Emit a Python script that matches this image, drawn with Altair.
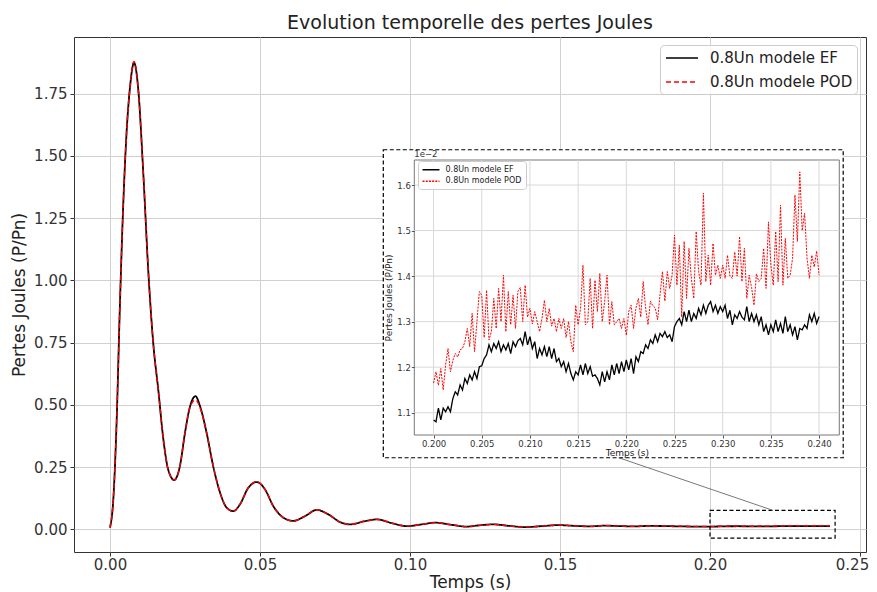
import altair as alt
import pandas as pd

main_t = [0.0, 0.0011, 0.0022, 0.0033, 0.0044, 0.0056, 0.0067, 0.0080, 0.0094, 0.0111,
          0.0128, 0.0144, 0.0161, 0.0178, 0.0194, 0.0214, 0.0233, 0.0250, 0.0267, 0.0285,
          0.0300, 0.0322, 0.0344, 0.0367, 0.0389, 0.0411, 0.0433, 0.0461, 0.0489, 0.0517,
          0.0544, 0.0578, 0.0611, 0.0650, 0.0689, 0.0728, 0.0767, 0.0800, 0.0850, 0.0889,
          0.0940, 0.0989, 0.1040, 0.1083, 0.1140, 0.1189, 0.1230, 0.1278, 0.1330, 0.1383,
          0.1440, 0.1494, 0.1550, 0.1600, 0.1650, 0.1700, 0.1750, 0.1800, 0.1850, 0.1900,
          0.1950]
main_ef = [0.007, 0.12, 0.43, 0.90, 1.30, 1.61, 1.78, 1.875, 1.77, 1.43,
           1.03, 0.75, 0.56, 0.36, 0.24, 0.198, 0.254, 0.388, 0.495, 0.535,
           0.495, 0.388, 0.254, 0.147, 0.087, 0.073, 0.100, 0.167, 0.190, 0.160,
           0.094, 0.047, 0.034, 0.053, 0.078, 0.060, 0.029, 0.020, 0.033, 0.040,
           0.025, 0.013, 0.020, 0.027, 0.018, 0.011, 0.016, 0.020, 0.014, 0.009,
           0.013, 0.017, 0.014, 0.012, 0.015, 0.013, 0.012, 0.014, 0.013, 0.012,
           0.011]
main_pod = [0.007, 0.12, 0.43, 0.90, 1.30, 1.61, 1.78, 1.88, 1.77, 1.43,
            1.03, 0.75, 0.56, 0.36, 0.24, 0.198, 0.254, 0.388, 0.492, 0.520,
            0.490, 0.388, 0.254, 0.147, 0.087, 0.073, 0.100, 0.167, 0.192, 0.160,
            0.094, 0.047, 0.034, 0.053, 0.079, 0.060, 0.029, 0.020, 0.033, 0.040,
            0.025, 0.013, 0.020, 0.027, 0.018, 0.011, 0.016, 0.020, 0.014, 0.009,
            0.013, 0.017, 0.014, 0.012, 0.015, 0.013, 0.012, 0.014, 0.013, 0.013,
            0.012]

# ---------------- zoom window 0.200 - 0.240 s (time in ms, losses in 1e-2 P/Pn)
inset_t_ms = [
    200.0, 200.25, 200.5, 200.75, 201.0, 201.25, 201.5, 201.75,
    202.0, 202.25, 202.5, 202.75, 203.0, 203.25, 203.5, 203.75,
    204.0, 204.25, 204.5, 204.75, 205.0, 205.25, 205.5, 205.75,
    206.0, 206.25, 206.5, 206.75, 207.0, 207.25, 207.5, 207.75,
    208.0, 208.25, 208.5, 208.75, 209.0, 209.25, 209.5, 209.75,
    210.0, 210.25, 210.5, 210.75, 211.0, 211.25, 211.5, 211.75,
    212.0, 212.25, 212.5, 212.75, 213.0, 213.25, 213.5, 213.75,
    214.0, 214.25, 214.5, 214.75, 215.0, 215.25, 215.5, 215.75,
    216.0, 216.25, 216.5, 216.75, 217.0, 217.25, 217.5, 217.75,
    218.0, 218.25, 218.5, 218.75, 219.0, 219.25, 219.5, 219.75,
    220.0, 220.25, 220.5, 220.75, 221.0, 221.25, 221.5, 221.75,
    222.0, 222.25, 222.5, 222.75, 223.0, 223.25, 223.5, 223.75,
    224.0, 224.25, 224.5, 224.75, 225.0, 225.25, 225.5, 225.75,
    226.0, 226.25, 226.5, 226.75, 227.0, 227.25, 227.5, 227.75,
    228.0, 228.25, 228.5, 228.75, 229.0, 229.25, 229.5, 229.75,
    230.0, 230.25, 230.5, 230.75, 231.0, 231.25, 231.5, 231.75,
    232.0, 232.25, 232.5, 232.75, 233.0, 233.25, 233.5, 233.75,
    234.0, 234.25, 234.5, 234.75, 235.0, 235.25, 235.5, 235.75,
    236.0, 236.25, 236.5, 236.75, 237.0, 237.25, 237.5, 237.75,
    238.0, 238.25, 238.5, 238.75, 239.0, 239.25, 239.5, 239.75,
    240.0]
inset_ef = [
    1.084, 1.080, 1.110, 1.084, 1.110, 1.102, 1.113, 1.102, 1.131, 1.146,
    1.139, 1.161, 1.150, 1.175, 1.164, 1.183, 1.172, 1.190, 1.175, 1.201,
    1.203, 1.219, 1.227, 1.249, 1.234, 1.252, 1.241, 1.256, 1.234, 1.249,
    1.238, 1.252, 1.230, 1.256, 1.245, 1.258, 1.263, 1.249, 1.278, 1.249,
    1.267, 1.241, 1.256, 1.219, 1.241, 1.227, 1.245, 1.223, 1.245, 1.219,
    1.241, 1.212, 1.219, 1.201, 1.212, 1.190, 1.208, 1.186, 1.172, 1.190,
    1.183, 1.205, 1.183, 1.208, 1.186, 1.201, 1.180, 1.183, 1.175, 1.161,
    1.190, 1.168, 1.190, 1.172, 1.205, 1.183, 1.208, 1.186, 1.212, 1.190,
    1.216, 1.194, 1.219, 1.186, 1.223, 1.212, 1.234, 1.230, 1.249, 1.241,
    1.260, 1.252, 1.271, 1.256, 1.274, 1.267, 1.278, 1.265, 1.271, 1.256,
    1.289, 1.300, 1.307, 1.293, 1.322, 1.300, 1.325, 1.300, 1.318, 1.307,
    1.329, 1.315, 1.336, 1.318, 1.336, 1.344, 1.322, 1.336, 1.318, 1.333,
    1.322, 1.336, 1.307, 1.325, 1.293, 1.315, 1.307, 1.322, 1.310, 1.304,
    1.333, 1.300, 1.318, 1.300, 1.315, 1.293, 1.311, 1.278, 1.293, 1.271,
    1.293, 1.278, 1.304, 1.278, 1.296, 1.274, 1.311, 1.278, 1.293, 1.271,
    1.289, 1.260, 1.285, 1.282, 1.293, 1.285, 1.315, 1.300, 1.318, 1.296,
    1.311]
inset_pod = [
    1.165, 1.190, 1.160, 1.197, 1.150, 1.205, 1.241, 1.190,
    1.215, 1.230, 1.222, 1.238, 1.241, 1.256, 1.285, 1.245,
    1.318, 1.234, 1.300, 1.366, 1.358, 1.265, 1.369, 1.260,
    1.278, 1.351, 1.285, 1.373, 1.300, 1.402, 1.278, 1.366,
    1.293, 1.358, 1.285, 1.366, 1.375, 1.300, 1.380, 1.310,
    1.329, 1.295, 1.322, 1.300, 1.278, 1.307, 1.347, 1.300,
    1.329, 1.290, 1.307, 1.278, 1.307, 1.285, 1.307, 1.265,
    1.300, 1.256, 1.234, 1.336, 1.293, 1.329, 1.424, 1.293,
    1.300, 1.395, 1.285, 1.391, 1.322, 1.406, 1.300, 1.344,
    1.402, 1.293, 1.344, 1.293, 1.300, 1.307, 1.285, 1.307,
    1.270, 1.322, 1.336, 1.285, 1.330, 1.351, 1.310, 1.388,
    1.330, 1.293, 1.345, 1.335, 1.330, 1.304, 1.360, 1.410,
    1.345, 1.410, 1.373, 1.402, 1.490, 1.380, 1.468, 1.310,
    1.476, 1.351, 1.461, 1.395, 1.351, 1.498, 1.410, 1.380,
    1.582, 1.388, 1.446, 1.380, 1.472, 1.402, 1.424, 1.395,
    1.424, 1.395, 1.446, 1.400, 1.395, 1.453, 1.400, 1.487,
    1.388, 1.461, 1.351, 1.402, 1.375, 1.336, 1.405, 1.388,
    1.395, 1.461, 1.373, 1.519, 1.424, 1.380, 1.498, 1.388,
    1.556, 1.380, 1.483, 1.395, 1.402, 1.439, 1.578, 1.476,
    1.629, 1.500, 1.538, 1.440, 1.395, 1.446, 1.420, 1.455,
    1.402]

series = ["0.8Un modele EF", "0.8Un modele POD"]
main_xticks = [0.0, 0.05, 0.10, 0.15, 0.20, 0.25]
main_yticks = [0.0, 0.25, 0.50, 0.75, 1.00, 1.25, 1.50, 1.75]
inset_xticks = [0.200, 0.205, 0.210, 0.215, 0.220, 0.225, 0.230, 0.235, 0.240]
inset_yticks = [1.1, 1.2, 1.3, 1.4, 1.5, 1.6]

# annotation boxes (main-axes data coordinates)
inset_box = {"x": [0.0911], "x2": [0.2444], "y": [1.525], "y2": [0.2877]}
zoom_box = {"x": [0.200], "x2": [0.2417], "y": [0.0762], "y2": [-0.0349]}
connector = {"x": [0.1693], "x2": [0.2207], "y": [0.2889], "y2": [0.0774]}

FONT = "DejaVu Sans"
LEGEND_LINE = "M-2,0L2,0"

# ---------------- tables
inset_t = [v / 1000 for v in inset_t_ms]
rows = []
for t, a, b in zip(main_t, main_ef, main_pod):
    rows.append({"t": t, "v": a, "serie": series[0]})
    rows.append({"t": t, "v": b, "serie": series[1]})
for t, a, b in zip(inset_t, inset_ef, inset_pod):
    rows.append({"t": t, "v": a / 100, "serie": series[0]})
    rows.append({"t": t, "v": b / 100, "serie": series[1]})
df_main = pd.DataFrame(rows)

irows = []
for t, a, b in zip(inset_t, inset_ef, inset_pod):
    irows.append({"t": t, "v": a, "serie": series[0]})
    irows.append({"t": t, "v": b, "serie": series[1]})
df_inset = pd.DataFrame(irows)

# ---------------- main axes
x_main_scale = alt.Scale(domain=[-0.012, 0.252], nice=False, zero=False)
y_main_scale = alt.Scale(domain=[-0.091, 1.978], nice=False, zero=False)
x_main_axis = alt.Axis(values=main_xticks, format=".2f", title="Temps (s)", grid=True,
                       gridColor="#d0d0d0", domain=False, tickSize=4, tickColor="#333",
                       labelFontSize=15, labelColor="#333", labelPadding=1,
                       labelOffset=alt.ExprRef("datum.value > 0.24 ? -8 : 0"),
                       titleFontSize=17, titlePadding=2, titleColor="#222", labelFlush=False)
y_main_axis = alt.Axis(values=main_yticks, format=".2f", title="Pertes Joules (P/Pn)", grid=True,
                       gridColor="#d0d0d0", domain=False, tickSize=4, tickColor="#333",
                       labelFontSize=15, labelColor="#333", labelPadding=3,
                       titleFontSize=17, titlePadding=5, titleColor="#222")

main_legend = alt.Legend(title=None, orient="none", legendX=586, legendY=8,
                         labelFont=FONT, labelFontSize=15, labelColor="#222",
                         symbolType=LEGEND_LINE, symbolSize=256, symbolStrokeWidth=1.6,
                         symbolOffset=9, labelOffset=19,
                         fillColor="rgba(255,255,255,0.8)", strokeColor="#cccccc",
                         cornerRadius=4, padding=4, rowPadding=7)
color_main = alt.Color("serie:N", scale=alt.Scale(domain=series, range=["black", "red"]),
                       legend=main_legend)
dash_main = alt.StrokeDash("serie:N", scale=alt.Scale(domain=series, range=[[1, 0], [5, 3]]),
                           legend=main_legend)

base_main = alt.Chart(df_main).encode(
    x=alt.X("t:Q", scale=x_main_scale, axis=x_main_axis),
    y=alt.Y("v:Q", scale=y_main_scale, axis=y_main_axis),
    color=color_main, strokeDash=dash_main)
ef_main = base_main.transform_filter(alt.datum.serie == series[0]).mark_line(
    strokeWidth=1.8, interpolate="monotone")
pod_main = base_main.transform_filter(alt.datum.serie == series[1]).mark_line(
    strokeWidth=1.4, interpolate="monotone")

box_big = alt.Chart(pd.DataFrame(inset_box)).mark_rect(
    fill="white", stroke="black", strokeWidth=1.2, strokeDash=[4, 2.5]).encode(
    x="x:Q", x2="x2:Q", y="y:Q", y2="y2:Q")
box_small = alt.Chart(pd.DataFrame(zoom_box)).mark_rect(
    fillOpacity=0, stroke="black", strokeWidth=1.2, strokeDash=[4, 2.5]).encode(
    x="x:Q", x2="x2:Q", y="y:Q", y2="y2:Q")
link = alt.Chart(pd.DataFrame(connector)).mark_rule(color="#555", strokeWidth=0.8).encode(
    x="x:Q", x2="x2:Q", y="y:Q", y2="y2:Q")

main = alt.layer(ef_main, pod_main, box_small, link, box_big)

# ---------------- inset axes
x_in_scale = alt.Scale(domain=[0.198, 0.2421], range=[340.3, 765.3], nice=False, zero=False)
y_in_scale = alt.Scale(domain=[1.051, 1.655], range=[398, 123], nice=False, zero=False)
x_in_axis = alt.Axis(values=inset_xticks, format=".3f", orient="bottom", offset=-117,
                     grid=False, domain=False, tickSize=3, tickColor="#555",
                     labelFontSize=8.5, labelColor="#333", labelPadding=1, labelFlush=False,
                     title="Temps (s)", titleFontSize=9, titlePadding=1, titleColor="#222",
                     zindex=1)
y_in_axis = alt.Axis(values=inset_yticks, format=".1f", orient="left", offset=-340.3,
                     grid=False, domain=False, tickSize=3, tickColor="#555",
                     labelFontSize=8.5, labelColor="#333", labelPadding=1,
                     title="Pertes Joules (P/Pn)", titleFontSize=9, titlePadding=3,
                     titleColor="#222", zindex=1)

inset_legend = alt.Legend(title=None, orient="none", legendX=344, legendY=124,
                          labelFont=FONT, labelFontSize=8, labelColor="#222",
                          symbolType=LEGEND_LINE, symbolSize=72, symbolStrokeWidth=1.3,
                          symbolOffset=4.25, labelOffset=9.5,
                          fillColor="rgba(255,255,255,0.8)", strokeColor="#cccccc",
                          cornerRadius=3, padding=3.75, rowPadding=2.5)
color_in = alt.Color("serie:N", scale=alt.Scale(domain=series, range=["black", "red"]),
                     legend=inset_legend)
dash_in = alt.StrokeDash("serie:N", scale=alt.Scale(domain=series, range=[[1, 0], [2, 1.2]]),
                         legend=inset_legend)

frame_in = alt.Chart(pd.DataFrame({"a": [0]})).mark_rect(
    fill="white", stroke="#777", strokeWidth=1).encode(
    x=alt.X("x0:Q", scale=x_in_scale, axis=x_in_axis), x2="x1:Q",
    y=alt.Y("y0:Q", scale=y_in_scale, axis=y_in_axis), y2="y1:Q").transform_calculate(
    x0="0.198", x1="0.2421", y0="1.051", y1="1.655")

grid_x = alt.Chart(pd.DataFrame({"t": inset_xticks})).mark_rule(
    color="#d8d8d8", strokeWidth=1).encode(
    x="t:Q", y=alt.datum(1.051), y2=alt.datum(1.655))
grid_y = alt.Chart(pd.DataFrame({"v": inset_yticks})).mark_rule(
    color="#d8d8d8", strokeWidth=1).encode(
    y="v:Q", x=alt.datum(0.198), x2=alt.datum(0.2421))

base_in = alt.Chart(df_inset).encode(
    x="t:Q", y="v:Q", color=color_in, strokeDash=dash_in)
ef_in = base_in.transform_filter(alt.datum.serie == series[0]).mark_line(strokeWidth=1.3)
pod_in = base_in.transform_filter(alt.datum.serie == series[1]).mark_line(strokeWidth=1.0)

offset_txt = alt.Chart(pd.DataFrame({"txt": ["1e\u22122"]})).mark_text(
    align="left", baseline="bottom", fontSize=8.5, font=FONT, color="#333", dy=-1).encode(
    x=alt.datum(0.198), y=alt.datum(1.655), text="txt:N")

inset = alt.layer(frame_in, grid_x, grid_y, ef_in, pod_in, offset_txt)

chart = alt.layer(main, inset).resolve_scale(
    x="independent", y="independent", color="independent", strokeDash="independent"
).properties(
    width=792, height=515,
    autosize=alt.AutoSizeParams(type="none"),
    padding={"left": 66, "top": 29, "right": 3, "bottom": 40},
    title=alt.TitleParams("Evolution temporelle des pertes Joules", fontSize=19,
                          font=FONT, fontWeight="normal", color="#222", anchor="middle",
                          offset=4),
).configure(font=FONT).configure_axis(
    labelFont=FONT, titleFont=FONT, titleFontWeight="normal"
).configure_view(stroke="#333", strokeWidth=1)

chart.save("out.html", embed_options={"renderer": "svg", "actions": False})
